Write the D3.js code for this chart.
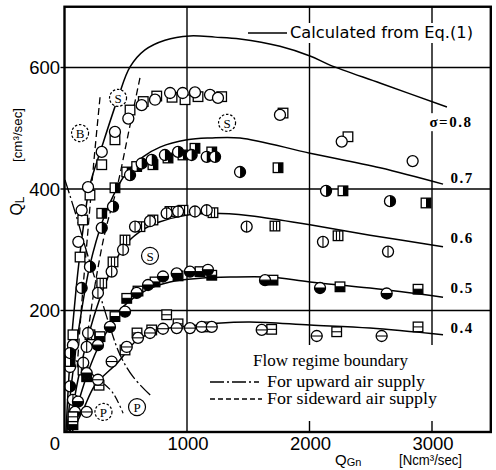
<!DOCTYPE html>
<html><head><meta charset="utf-8">
<script src="https://cdn.jsdelivr.net/npm/d3@7"></script>
<style>body{margin:0;background:#fff}svg{display:block}</style>
</head><body><svg id="c" width="496" height="470"></svg>
<script>
// ---------- data ----------
const xTicks = [1000, 2000, 3000];
const yTicks = [200, 400, 600];
const sigmaLabels = ["σ=0.8", "0.7", "0.6", "0.5", "0.4"];

// calculated curves (Eq.1): [QGn, QL]
const curve08 = [[12,0],[45,119],[94,234],[151,333],[208,407],[298,465],[437,550],[535,601],[657,629],[820,645],[1024,652],[1229,650],[1433,647],[1759,635],[2004,619],[2167,604],[2580,574],[3122,535]];
const curve07 = [[20,0],[61,86],[127,184],[208,275],[314,349],[412,395],[510,428],[641,453],[780,469],[1000,481],[1188,484],[1433,484],[2004,459],[2576,435],[3090,408]];
const curve06 = [[37,0],[110,86],[208,168],[314,234],[412,280],[510,311],[641,333],[780,346],[1000,357],[1212,360],[1514,356],[1759,349],[2004,341],[2494,324],[3090,305]];
const curve05 = [[45,0],[94,36],[184,94],[265,135],[371,174],[478,206],[673,234],[861,247],[1106,253],[1351,255],[1678,255],[2004,247],[2494,237],[3090,222]];
const curve04 = [[61,0],[151,36],[249,77],[437,115],[592,151],[780,168],[1000,174],[1245,179],[1514,181],[2004,176],[2494,171],[3090,160]];

// flow regime boundaries
const sideA = [[290,551],[241,448],[192,333],[143,217],[102,102]];
const sideB = [[616,583],[527,497],[429,403],[331,329],[249,242],[176,143]];
const upC = [[4,415],[94,357],[176,300],[265,242],[371,173],[453,127],[559,91],[714,58]];
const arcE = [[25,130],[181,102],[290,85],[396,64],[478,31]];

// measured points: circles and squares per sigma
const s08c = [[192,403],[140,365],[113,313],[304,461],[412,494],[521,516],[630,538],[739,547],[862,558],[965,558],[1065,559],[1188,555],[1253,550],[1759,522],[2263,478],[2842,446],[69,143],[45,107]];
const s08s = [[208,390],[149,349],[127,288],[304,440],[412,481],[535,530],[643,544],[753,553],[878,551],[984,547],[1090,552],[1283,552],[1784,525],[2314,486],[69,160]];
const s07c = [[304,336],[396,371],[535,423],[630,442],[712,448],[820,456],[927,461],[1038,456],[1161,453],[1229,453],[1433,428],[2135,397],[2657,380],[208,272],[140,237],[45,130],[45,75]];
const s07s = [[304,360],[412,402],[508,428],[589,437],[722,440],[845,451],[967,456],[1065,467],[1202,461],[1743,435],[2273,397],[2951,377],[45,116]];
const s06c = [[273,229],[385,264],[478,300],[576,338],[698,347],[834,360],[927,363],[1065,363],[1161,365],[1487,338],[2110,313],[2641,297],[192,163],[181,140],[153,114],[69,53]];
const s06s = [[304,245],[396,280],[494,316],[616,338],[722,349],[861,363],[967,365],[1212,361],[1718,339],[2233,323],[208,160],[151,102]];
const s05c = [[181,97],[273,143],[371,173],[494,198],[589,229],[682,242],[804,256],[916,261],[1024,264],[1171,267],[1637,250],[2086,237],[2630,228],[110,50],[86,33]];
const s05s = [[290,157],[412,190],[508,220],[600,232],[739,247],[927,257],[1106,264],[1202,258],[1702,250],[2249,239],[2886,235],[181,91],[69,12]];
const s04c = [[273,86],[385,116],[508,140],[600,155],[698,163],[804,170],[916,171],[1024,171],[1120,173],[1202,173],[1610,168],[2059,158],[2589,158],[181,33]];
const s04s = [[282,77],[494,135],[592,163],[712,168],[834,193],[927,178],[1161,173],[1691,169],[2222,165],[2886,173],[69,25]];

// regime labels: [QGn, QL, letter, dashedCircle]
const regimes = [[127,492,"B",true],[437,550,"S",true],[1327,509,"S",true],[698,290,"S",false],[318,33,"P",true],[592,41,"P",false]];

// ---------- drawing ----------
const svg = d3.select("#c");
const xMax = 3480, yMax = 700;
const x = d3.scaleLinear().domain([0, xMax]).range([64.5, 64.5 + xMax * 0.1225]);
const y = d3.scaleLinear().domain([0, yMax]).range([432, 432 - yMax * 0.6075]);

const gGrid = svg.append("g");
const gBg = svg.append("g");
const gCurves = svg.append("g");
const gMarks = svg.append("g");
const gText = svg.append("g");
const gFrame = svg.append("g");

// grid
gGrid.selectAll(".hg").data(yTicks).join("line")
  .attr("x1", x(0)).attr("x2", x(xMax)).attr("y1", d => y(d)).attr("y2", d => y(d))
  .attr("stroke", "#000").attr("stroke-width", 1.4);
gGrid.selectAll(".vg").data(xTicks).join("line")
  .attr("x1", d => x(d)).attr("x2", d => x(d)).attr("y1", y(0)).attr("y2", y(yMax))
  .attr("stroke", "#000").attr("stroke-width", 1.4);
// y tick marks
gGrid.selectAll(".yt").data(yTicks).join("line")
  .attr("x1", x(0) - 4).attr("x2", x(0)).attr("y1", d => y(d)).attr("y2", d => y(d))
  .attr("stroke", "#000").attr("stroke-width", 1.4);

// lower legend background (grid gap)
gBg.append("rect").attr("x", 200).attr("y", 345).attr("width", 252).attr("height", 76).attr("fill", "#fff");

function addText(t, px, py, opts) {
  const el = gText.append("text").attr("x", px).attr("y", py).text(t)
    .attr("font-family", opts.family || "Liberation Sans")
    .attr("font-size", opts.size || 14)
    .attr("font-weight", opts.weight || "normal")
    .attr("text-anchor", opts.anchor || "start")
    .attr("dominant-baseline", "central");
  if (opts.ls) el.attr("letter-spacing", opts.ls);
  if (opts.len) el.attr("textLength", opts.len).attr("lengthAdjust", "spacingAndGlyphs");
  if (opts.bg) {
    const b = el.node().getBBox();
    gBg.append("rect").attr("x", b.x - 3).attr("y", b.y - 1).attr("width", b.width + 6).attr("height", b.height + 2).attr("fill", "#fff");
  }
  return el;
}

// curves
const line = d3.line().x(d => x(d[0])).y(d => y(d[1])).curve(d3.curveCatmullRom.alpha(0.5));
[curve08, curve07, curve06, curve05, curve04].forEach(c => {
  gCurves.append("path").attr("d", line(c)).attr("fill", "none").attr("stroke", "#000").attr("stroke-width", 1.5);
});
// boundaries
[sideA, sideB].forEach(c => {
  gCurves.append("path").attr("d", line(c)).attr("fill", "none").attr("stroke", "#000").attr("stroke-width", 1.3).attr("stroke-dasharray", "7,4");
});
gCurves.append("path").attr("d", line(upC)).attr("fill", "none").attr("stroke", "#000").attr("stroke-width", 1.3).attr("stroke-dasharray", "14,3,2,3");
gCurves.append("path").attr("d", line(arcE)).attr("fill", "none").attr("stroke", "#000").attr("stroke-width", 1.2).attr("stroke-dasharray", "8,3,2,3");

// markers
const R = 5.5, H = 4.8;
function drawSquares(data, style) {
  data.forEach(d => {
    const g = gMarks.append("g").attr("transform", `translate(${x(d[0])},${y(d[1])})`);
    g.append("rect").attr("x", -H).attr("y", -H).attr("width", 2 * H).attr("height", 2 * H)
      .attr("fill", "#fff").attr("stroke", "#000").attr("stroke-width", 1.3);
    if (style === "right") g.append("rect").attr("x", 0).attr("y", -H).attr("width", H).attr("height", 2 * H).attr("fill", "#000");
    if (style === "bottom") g.append("rect").attr("x", -H).attr("y", 0).attr("width", 2 * H).attr("height", H).attr("fill", "#000");
    if (style === "vert") [-1.6, 1.6].forEach(v => g.append("line").attr("x1", v).attr("x2", v).attr("y1", -H).attr("y2", H).attr("stroke", "#000").attr("stroke-width", 1.1));
    if (style === "horiz" || style === "bottom") g.append("line").attr("x1", -H).attr("x2", H).attr("y1", 0).attr("y2", 0).attr("stroke", "#000").attr("stroke-width", 1.1);
  });
}
function drawCircles(data, style) {
  data.forEach(d => {
    const g = gMarks.append("g").attr("transform", `translate(${x(d[0])},${y(d[1])})`);
    g.append("circle").attr("r", R).attr("fill", "#fff").attr("stroke", "#000").attr("stroke-width", 1.3);
    if (style === "right") g.append("path").attr("d", `M0,${-R}A${R},${R} 0 0 1 0,${R}Z`).attr("fill", "#000");
    if (style === "bottom") g.append("path").attr("d", `M${-R},0A${R},${R} 0 0 0 ${R},0Z`).attr("fill", "#000");
    if (style === "vert") g.append("line").attr("x1", 0).attr("x2", 0).attr("y1", -R).attr("y2", R).attr("stroke", "#000").attr("stroke-width", 1.1);
    if (style === "horiz" || style === "bottom") g.append("line").attr("x1", -R).attr("x2", R).attr("y1", 0).attr("y2", 0).attr("stroke", "#000").attr("stroke-width", 1.1);
  });
}
drawSquares(s08s, "open"); drawCircles(s08c, "open");
drawSquares(s07s, "right"); drawCircles(s07c, "right");
drawSquares(s06s, "vert"); drawCircles(s06c, "vert");
drawSquares(s05s, "bottom"); drawCircles(s05c, "bottom");
drawSquares(s04s, "horiz"); drawCircles(s04c, "horiz");

// regime labels
regimes.forEach(r => {
  const g = gMarks.append("g").attr("transform", `translate(${x(r[0])},${y(r[1])})`);
  g.append("circle").attr("r", 8.5).attr("fill", "#fff").attr("stroke", "#000").attr("stroke-width", 1.2)
    .attr("stroke-dasharray", r[3] ? "2.5,1.8" : null);
  g.append("text").text(r[2]).attr("text-anchor", "middle").attr("dominant-baseline", "central")
    .attr("font-family", "Liberation Serif").attr("font-size", 13).attr("y", 0.5);
});

// tick labels
yTicks.forEach(v => addText(String(v), 60, y(v), {size: 18.5, anchor: "end", family: "Liberation Sans"}));
addText("0", 55, 443, {size: 18.5, anchor: "middle"});
xTicks.forEach(v => addText(String(v), x(v) + 1, 443, {size: 18.5, anchor: "middle"}));

// sigma labels
const sigmaPos = [[3330, 510, "end"], [3150, 418, "start"], [3150, 319, "start"], [3150, 237, "start"], [3150, 171, "start"]];
sigmaLabels.forEach((t, i) => {
  const p = sigmaPos[i];
  addText(t, x(p[0]), y(p[1]), {family: "Liberation Serif", weight: "bold", size: 15, anchor: p[2], ls: 1.5, bg: true});
});

// top legend
addText("Calculated from Eq.(1)", 290, 33, {family: "DejaVu Sans", size: 15, len: 183, bg: true});
gText.append("line").attr("x1", 248).attr("x2", 287).attr("y1", 33).attr("y2", 33).attr("stroke", "#000").attr("stroke-width", 1.5);

// lower legend
addText("Flow regime boundary", 253, 360, {family: "Liberation Serif", size: 16, len: 155});
addText("For upward air supply", 267, 381, {family: "Liberation Serif", size: 16, len: 158});
addText("For sideward air supply", 267, 398, {family: "Liberation Serif", size: 16, len: 170});
gText.append("line").attr("x1", 210).attr("x2", 259).attr("y1", 382).attr("y2", 382).attr("stroke", "#000").attr("stroke-width", 1.3).attr("stroke-dasharray", "14,3,2,3");
gText.append("line").attr("x1", 210).attr("x2", 262).attr("y1", 399).attr("y2", 399).attr("stroke", "#000").attr("stroke-width", 1.3).attr("stroke-dasharray", "5,3");

// axis titles
const yt = gText.append("text").attr("transform", "translate(22,206) rotate(-90)").attr("text-anchor", "middle")
  .attr("font-family", "Liberation Sans").attr("font-size", 16);
yt.append("tspan").text("Q");
yt.append("tspan").text("L").attr("font-size", 12).attr("dy", 2);
gText.append("text").attr("transform", "translate(22,135) rotate(-90)").attr("text-anchor", "middle")
  .attr("font-family", "Liberation Sans").attr("font-size", 13).attr("textLength", 54).attr("lengthAdjust", "spacingAndGlyphs")
  .text("[cm³/sec]");
const xt = gText.append("text").attr("x", 335).attr("y", 465).attr("font-family", "Liberation Sans").attr("font-size", 15);
xt.append("tspan").text("Q");
xt.append("tspan").text("Gn").attr("font-size", 11).attr("dy", 1);
gText.append("text").attr("x", 399).attr("y", 465).attr("font-family", "Liberation Sans").attr("font-size", 14)
  .attr("textLength", 63).attr("lengthAdjust", "spacingAndGlyphs").text("[Ncm³/sec]");

// frame
gFrame.append("rect").attr("x", x(0)).attr("y", y(yMax)).attr("width", x(xMax) - x(0)).attr("height", y(0) - y(yMax))
  .attr("fill", "none").attr("stroke", "#000").attr("stroke-width", 2.4);
</script></body></html>
